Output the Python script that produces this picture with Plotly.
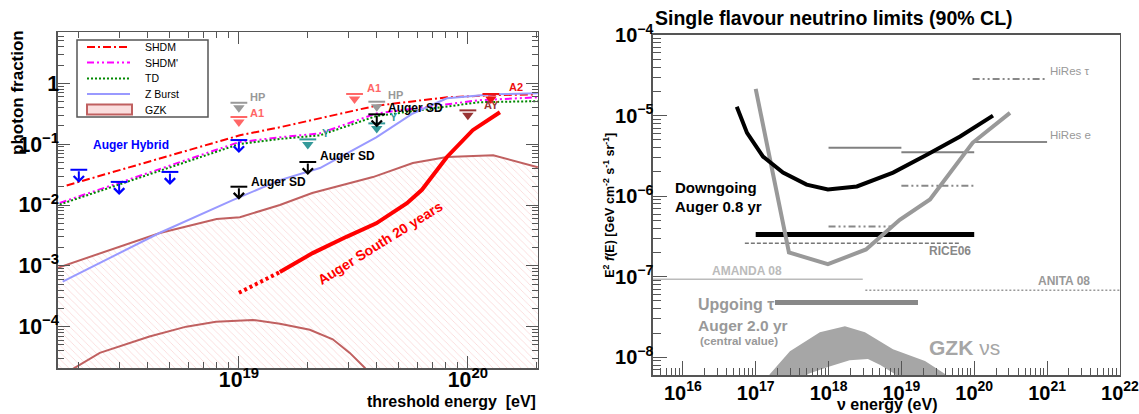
import math
import plotly.graph_objects as go

FONT = "Liberation Sans"
W, H = 1139, 414

# ---------------- Left panel : photon fraction ----------------
shdm_E = [1.77e18, 4.0e18, 1.01e19, 1.51e19, 3.98e19, 8.1e19, 1.29e20, 1.95e20]
shdm_f = [0.021, 0.051, 0.14, 0.19, 0.43, 0.59, 0.64, 0.66]

shdmp_E = [1.65e18, 1.0e19, 1.51e19, 2.26e19, 3.98e19, 1.12e20, 2.02e20]
shdmp_f = [0.0108, 0.108, 0.13, 0.151, 0.32, 0.53, 0.59]

td_E = [1.65e18, 1.0e19, 1.51e19, 2.26e19, 3.98e19, 1.12e20, 2.02e20]
td_f = [0.0102, 0.10, 0.122, 0.14, 0.29, 0.49, 0.51]

zb_E = [1.70e18, 4.52e18, 9.4e18, 1.51e19, 2.26e19, 3.98e19, 5.75e19, 8.1e19, 1.29e20, 2.02e20]
zb_f = [5.5e-4, 3.5e-3, 0.012, 0.0257, 0.0406, 0.13, 0.32, 0.57, 0.66, 0.69]

gzk_up_E = [1.62e18, 4.52e18, 8.0e18, 1.01e19, 1.51e19, 2.09e19, 3.85e19, 5.75e19, 8.1e19, 1.29e20, 2.02e20]
gzk_up_f = [9.3e-4, 3.47e-3, 5.9e-3, 6.3e-3, 0.010, 0.0158, 0.0288, 0.049, 0.0617, 0.066, 0.0417]

gzk_lo_E = [1.6e18, 1.92e18, 2.47e18, 4.07e18, 5.89e18, 7.94e18, 1.15e19, 1.51e19, 2.04e19, 2.57e19, 3.05e19, 3.55e19, 3.9e19]
gzk_lo_f = [1.4e-5, 2.1e-5, 3.7e-5, 6.9e-5, 1.0e-4, 1.2e-4, 1.29e-4, 1.12e-4, 8.9e-5, 6.2e-5, 3.7e-5, 2.1e-5, 1.2e-5]

south_dot_E = [1.0e19, 1.51e19]
south_dot_f = [3.6e-4, 7.9e-4]
south_E = [1.51e19, 2.1e19, 2.95e19, 3.98e19, 5.42e19, 6.3e19, 8.1e19, 1.05e20, 1.38e20]
south_f = [7.9e-4, 1.62e-3, 3.0e-3, 5.0e-3, 0.0107, 0.0178, 0.0617, 0.17, 0.335]

hyb_E = [2e18, 3e18, 5e18, 1e19]
hyb_f = [0.038, 0.024, 0.035, 0.117]

sd_E = [1e19, 2e19, 4e19]
sd_f = [0.020, 0.051, 0.31]

other_limits = [
    # name, colour, energies, fractions
    ("HP", "#999999", [1e19, 4e19], [0.48, 0.50]),
    ("A1", "#ff6666", [1e19, 3.2e19], [0.28, 0.67]),
    ("Y", "#339999", [2e19, 4e19], [0.12, 0.22]),
    ("AY", "#993333", [1e20], [0.36]),
    ("A2", "#ee1111", [1.26e20], [0.67]),
]

legend_names = ["SHDM", "SHDM'", "TD", "Z Burst", "GZK"]

# ---------------- Right panel : neutrino limits ----------------
down_E = [5.5e16, 7.6e16, 1.26e17, 2.37e17, 5.0e17, 9.8e17, 2.45e18, 7.7e18, 2.24e19, 6.4e19, 1.81e20]
down_F = [1.29e-5, 6.1e-6, 3.1e-6, 1.96e-6, 1.39e-6, 1.21e-6, 1.32e-6, 1.96e-6, 3.27e-6, 5.5e-6, 1.0e-5]

up_E = [1.0e17, 2.86e17, 9.8e17, 3.27e18, 9.5e18, 2.47e19, 9.5e19, 3.1e20]
up_F = [2.15e-5, 2.0e-7, 1.43e-7, 2.18e-7, 5.1e-7, 9.1e-7, 4.6e-6, 1.08e-5]

gzknu_E = [1.26e17, 1.57e17, 2.95e17, 7.6e17, 1.68e18, 3.16e18, 7.67e18, 2.11e19, 3.98e19, 5.0e19,
           9.5e18, 8.13e18, 5.13e18, 3.47e18, 1.95e18, 9.8e17, 5.2e17, 4.5e17]
gzknu_F = [4.5e-9, 6.2e-9, 1.19e-8, 2.05e-8, 2.43e-8, 2.05e-8, 1.26e-8, 8.97e-9, 6.2e-9, 4.7e-9,
           5.0e-9, 6.2e-9, 8.0e-9, 9.5e-9, 9.2e-9, 7.6e-9, 6.2e-9, 5.0e-9]

# horizontal (integrated) limits: name, E range, flux
flat_limits = [
    ("auger_down_int", [1e17, 1e20], 3.35e-7),
    ("rice06", [7.1e16, 6.4e19], 2.6e-7),
    ("ddd_short", [1e18, 7.4e18], 4.2e-7),
    ("amanda08", [3.9e15, 2.95e18], 9.3e-8),
    ("anita08", [3.2e18, 1e22], 6.8e-8),
    ("auger_up_int", [1.84e17, 1.69e19], 4.8e-8),
    ("hires_tau", [9.5e19, 9.3e20], 2.85e-5),
    ("hires_e", [1e20, 1e21], 4.7e-6),
    ("grey_a", [1e18, 1e19], 4.0e-6),
    ("grey_b", [1e19, 1e20], 3.5e-6),
    ("ddd_mid", [1e19, 1e20], 1.35e-6),
]
DDD = "7px,3px,2px,3px,2px,3px"
flat_styles = {
    "auger_down_int": dict(color="black", width=5, dash="solid"),
    "rice06": dict(color="#777777", width=1.5, dash="4px,2px"),
    "ddd_short": dict(color="#888888", width=2, dash=DDD),
    "amanda08": dict(color="#bbbbbb", width=1.5, dash="solid"),
    "anita08": dict(color="#999999", width=1.5, dash="2px,2px"),
    "auger_up_int": dict(color="#888888", width=5, dash="solid"),
    "hires_tau": dict(color="#888888", width=2, dash=DDD),
    "hires_e": dict(color="#888888", width=2, dash="solid"),
    "grey_a": dict(color="#808080", width=2, dash="solid"),
    "grey_b": dict(color="#808080", width=2, dash="solid"),
    "ddd_mid": dict(color="#888888", width=2, dash=DDD),
}

L = math.log10
fig = go.Figure()

SHDM_STYLE = dict(color="#ff0000", width=2, dash="8px,3px,2px,3px")
SHDMP_STYLE = dict(color="#ff00ff", width=2, dash="7px,3px,2px,3px,2px,3px")
TD_STYLE = dict(color="#008800", width=2, dash="2px,2px")
ZB_STYLE = dict(color="#9999ff", width=2)
GZK_LINE = dict(color="#c06060", width=2)

# ---- left traces ----
fig.add_trace(go.Scatter(x=gzk_up_E, y=gzk_up_f, mode="lines", name="GZK",
                         line=GZK_LINE, fill="tozeroy", fillcolor="rgba(0,0,0,0)",
                         fillpattern=dict(shape="\\", fgcolor="#f4aaaa", size=5, solidity=0.15),
                         xaxis="x", yaxis="y"))
fig.add_trace(go.Scatter(x=gzk_lo_E, y=gzk_lo_f, mode="lines", line=GZK_LINE,
                         xaxis="x", yaxis="y"))
fig.add_trace(go.Scatter(x=shdm_E, y=shdm_f, mode="lines", name="SHDM", line=SHDM_STYLE,
                         xaxis="x", yaxis="y"))
fig.add_trace(go.Scatter(x=shdmp_E, y=shdmp_f, mode="lines", name="SHDM'", line=SHDMP_STYLE,
                         xaxis="x", yaxis="y"))
fig.add_trace(go.Scatter(x=td_E, y=td_f, mode="lines", name="TD", line=TD_STYLE,
                         xaxis="x", yaxis="y"))
fig.add_trace(go.Scatter(x=zb_E, y=zb_f, mode="lines", name="Z Burst", line=ZB_STYLE,
                         xaxis="x", yaxis="y"))
fig.add_trace(go.Scatter(x=south_dot_E, y=south_dot_f, mode="lines",
                         line=dict(color="#ff0000", width=4, dash="3px,3px"), xaxis="x", yaxis="y"))
fig.add_trace(go.Scatter(x=south_E, y=south_f, mode="lines",
                         line=dict(color="#ff0000", width=4), xaxis="x", yaxis="y"))

for name, col, es, fs in other_limits:
    fig.add_trace(go.Scatter(x=es, y=fs, mode="markers",
                             marker=dict(symbol="triangle-down", size=10, color=col, standoff=5),
                             xaxis="x", yaxis="y"))
    fig.add_trace(go.Scatter(x=es, y=fs, mode="markers",
                             marker=dict(symbol="line-ew", size=12, line=dict(width=2, color=col)),
                             xaxis="x", yaxis="y"))

for es, fs, col in [(hyb_E, hyb_f, "#0000ff"), (sd_E, sd_f, "#000000")]:
    fig.add_trace(go.Scatter(x=es, y=fs, mode="markers",
                             marker=dict(symbol="line-ew", size=12, line=dict(width=2, color=col)),
                             xaxis="x", yaxis="y"))

# ---- right traces ----
fig.add_trace(go.Scatter(x=gzknu_E, y=gzknu_F, mode="lines", fill="toself",
                         fillcolor="#a6a6a6", line=dict(width=0, color="#a6a6a6"),
                         xaxis="x2", yaxis="y2"))
for name, er, fl in flat_limits:
    fig.add_trace(go.Scatter(x=er, y=[fl, fl], mode="lines",
                             line=flat_styles[name], xaxis="x2", yaxis="y2"))
fig.add_trace(go.Scatter(x=up_E, y=up_F, mode="lines",
                         line=dict(color="#999999", width=4), xaxis="x2", yaxis="y2"))
fig.add_trace(go.Scatter(x=down_E, y=down_F, mode="lines",
                         line=dict(color="black", width=4), xaxis="x2", yaxis="y2"))

# ---- annotations ----
ann = []


def txt(x, y, t, size, color, ref="", xanchor="left", angle=0, weight="bold"):
    ann.append(dict(x=x, y=y, xref="x" + ref, yref="y" + ref, text=t, showarrow=False,
                    xanchor=xanchor, yanchor="middle", textangle=angle,
                    font=dict(family=FONT, size=size, color=color, weight=weight)))


# arrows of the Auger upper limits
for es, fs, col in [(hyb_E, hyb_f, "#0000ff"), (sd_E, sd_f, "#000000")]:
    for e, f in zip(es, fs):
        ann.append(dict(x=L(e), y=L(f), xref="x", yref="y", text="", showarrow=True,
                        ax=0, ay=-13, yshift=-13, arrowhead=4, arrowsize=1, arrowwidth=2,
                        arrowcolor=col, standoff=0))

txt(18.354, -1.016, "Auger Hybrid", 12, "#0000ff")
txt(19.044, -1.623, "Auger SD", 12, "black")
txt(19.345, -1.197, "Auger SD", 12, "black")
txt(19.642, -0.41, "Auger SD", 12, "black")
txt(19.04, -0.23, "HP", 11, "#999999")
txt(19.04, -0.49, "A1", 11, "#ff6666")
txt(19.55, -0.08, "A1", 11, "#ff6666")
txt(19.642, -0.197, "HP", 11, "#999999")
txt(19.354, -0.82, "Y", 11, "#339999")
txt(19.65, -0.557, "Y", 11, "#339999")
txt(20.06, -0.36, "AY", 11, "#993333")
txt(20.17, -0.066, "A2", 11, "#ee1111")
txt(19.616, -2.62, "Auger South 20 years", 14, "#ff0000", xanchor="center", angle=-32)

txt(15.863, -5.894, "Downgoing", 15, "black", ref="2")
txt(15.863, -6.129, "Auger 0.8 yr", 15, "black", ref="2")
txt(16.179, -7.342, "Upgoing τ", 16, "#999999", ref="2")
txt(16.179, -7.60, "Auger 2.0 yr", 15.5, "#999999", ref="2")
txt(16.206, -7.80, "(central value)", 11.5, "#999999", ref="2")
txt(19.352, -7.874, "GZK <span style='font-weight:normal'>νs</span>", 21, "#a6a6a6", ref="2")
txt(16.37, -6.933, "AMANDA 08", 12, "#bbbbbb", ref="2")
txt(20.85, -7.057, "ANITA 08", 12, "#999999", ref="2")
txt(19.352, -6.686, "RICE06", 12, "#888888", ref="2")
txt(21.01, -4.446, "HiRes τ", 11.5, "#999999", ref="2", weight="normal")
txt(21.01, -5.238, "HiRes e", 11.5, "#999999", ref="2", weight="normal")


def ptxt(x, y, t, size, xanchor="center", yanchor="middle", angle=0, weight="bold"):
    ann.append(dict(x=x, y=y, xref="paper", yref="paper", text=t, showarrow=False,
                    xanchor=xanchor, yanchor=yanchor, textangle=angle,
                    font=dict(family=FONT, size=size, color="black", weight=weight)))


ptxt(0.0158, 0.778, "photon fraction", 17, angle=-90)
ptxt(0.4723, 0.029, "threshold energy  [eV]", 16, xanchor="right")
ptxt(0.5733, 0.9565, "Single flavour neutrino limits (90% CL)", 19.5, xanchor="left")
ptxt(0.779, 0.024, "ν energy (eV)", 16)
ptxt(0.5345, 0.505, "E<sup>2</sup> <i>f</i>(E) [GeV cm<sup>-2</sup> s<sup>-1</sup> sr<sup>-1</sup>]", 12.5, angle=-90)

# ---- legend box for the left panel (drawn in pixels of the page) ----
def px(x):
    return x / W


def py(y):
    return 1 - y / H


shapes = [dict(type="rect", xref="paper", yref="paper", x0=px(77), x1=px(208), y0=py(117), y1=py(40),
               line=dict(color="#555555", width=1.5), fillcolor="white", layer="above")]
leg_styles = [SHDM_STYLE, SHDMP_STYLE, TD_STYLE, ZB_STYLE]
rows = [47, 62.5, 78.5, 94, 109.5]
for i, name in enumerate(legend_names):
    yy = rows[i]
    if i < 4:
        shapes.append(dict(type="line", xref="paper", yref="paper", x0=px(87), x1=px(130),
                           y0=py(yy), y1=py(yy), line=leg_styles[i], layer="above"))
    else:
        shapes.append(dict(type="rect", xref="paper", yref="paper", x0=px(87), x1=px(132),
                           y0=py(yy + 5), y1=py(yy - 5), line=GZK_LINE,
                           fillcolor="rgba(242,160,160,0.35)", layer="above"))
    ptxt(px(143), py(yy), name, 10.5, xanchor="left", weight="normal")

axis_common = dict(type="log", showgrid=False, zeroline=False, showline=True, automargin=False,
                   linecolor="#555555", linewidth=1.5, ticks="inside", tickcolor="#555555",
                   tickwidth=1, dtick=1, exponentformat="power", ticklabeloverflow="allow",
                   tickfont=dict(family=FONT, size=16, color="black", weight="bold"))

fig.update_layout(
    width=W, height=H, margin=dict(l=0, r=0, t=0, b=0, autoexpand=False),
    paper_bgcolor="white", plot_bgcolor="white",
    annotations=ann, shapes=shapes, showlegend=False,
    xaxis=dict(axis_common, domain=[0.0509, 0.4723], anchor="y", range=[18.21, 20.306],
               ticklen=12, mirror="ticks", ticklabelstandoff=-7,
               tickfont=dict(family=FONT, size=17, color="black", weight="bold"),
               minor=dict(ticks="inside", ticklen=6, tickcolor="#555555", showgrid=False)),
    yaxis=dict(axis_common, domain=[0.1111, 0.9227], anchor="x", range=[-4.68, 0.845],
               ticklen=12, mirror="ticks", ticklabelstandoff=-6,
               tickfont=dict(family=FONT, size=17, color="black", weight="bold"),
               minor=dict(ticks="inside", ticklen=6, tickcolor="#555555", showgrid=False)),
    xaxis2=dict(axis_common, domain=[0.5733, 0.9833], anchor="y2", range=[15.59, 22.001],
                ticklen=14, mirror=True,
                minor=dict(ticks="inside", ticklen=7, tickcolor="#555555", showgrid=False)),
    yaxis2=dict(axis_common, domain=[0.0942, 0.9155], anchor="x2", range=[-8.22, -3.999],
                ticklen=14, mirror=True, ticklabelstandoff=-5,
                minor=dict(ticks="inside", ticklen=8, tickcolor="#555555", showgrid=False)),
)

fig.write_html("out.html", config={"displayModeBar": False, "staticPlot": True},
               post_script="document.body.style.margin='0px';document.body.style.overflow='hidden';")
